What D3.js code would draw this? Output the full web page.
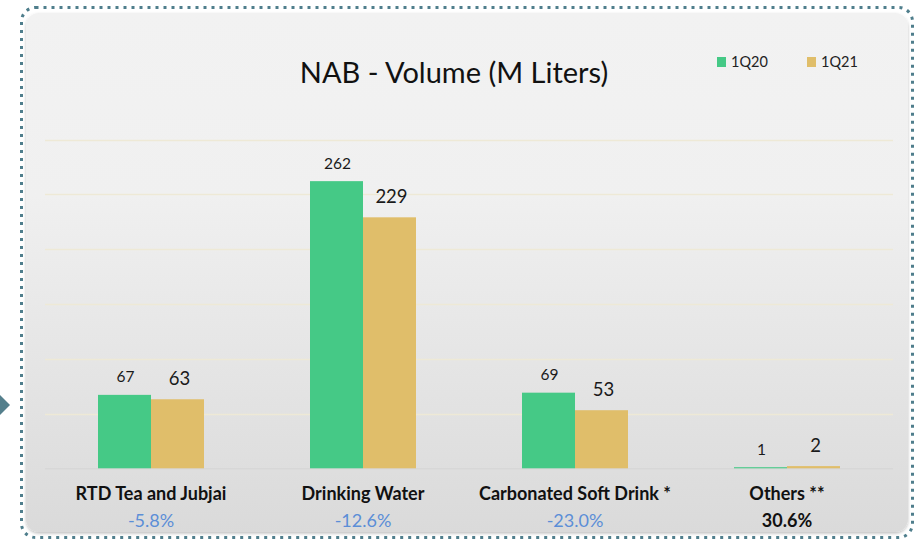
<!DOCTYPE html>
<html>
<head>
<meta charset="utf-8">
<script src="https://cdn.jsdelivr.net/npm/d3@7"></script>
<style>
html,body{margin:0;padding:0;background:#fff;}
svg{display:block;font-family:Lato,"Open Sans",sans-serif;}
</style>
</head>
<body>
<svg id="chart" width="919" height="541"></svg>
<script>
const categories = ["RTD Tea and Jubjai", "Drinking Water", "Carbonated Soft Drink *", "Others **"];
const seriesNames = ["1Q20", "1Q21"];
const values1Q20 = [67, 262, 69, 1];
const values1Q21 = [63, 229, 53, 2];
const growthLabels = ["-5.8%", "-12.6%", "-23.0%", "30.6%"];
const yTicks = [0, 50, 100, 150, 200, 250, 300];

const colors = {"1Q20": "#45C986", "1Q21": "#E0BE6A"};
const svg = d3.select("#chart");

// background panel
const defs = svg.append("defs");
const grad = defs.append("linearGradient").attr("id","bg").attr("x1",0).attr("y1",0).attr("x2",0).attr("y2",1);
grad.append("stop").attr("offset","0%").attr("stop-color","#F2F2F2");
grad.append("stop").attr("offset","35%").attr("stop-color","#F0F0F0");
grad.append("stop").attr("offset","100%").attr("stop-color","#DADADA");
const sh = defs.append("filter").attr("id","sh").attr("x","-5%").attr("y","-5%").attr("width","110%").attr("height","110%");
sh.append("feDropShadow").attr("dx",0).attr("dy",1.5).attr("stdDeviation",1.5).attr("flood-color","#000").attr("flood-opacity",0.25);

svg.append("rect").attr("x",26).attr("y",13).attr("width",882).attr("height",519)
  .attr("rx",13).attr("fill","url(#bg)").attr("filter","url(#sh)");

svg.append("rect").attr("x",21.5).attr("y",7.5).attr("width",891).attr("height",530)
  .attr("rx",14).attr("fill","none").attr("stroke","#4F7E8C").attr("stroke-width",3)
  .attr("stroke-dasharray","3,5");

// left arrow
svg.append("path").attr("d","M0,395 L10,405 L0,415 Z").attr("fill","#547F8C");

// scales
const x0 = d3.scaleBand().domain(categories).range([45, 893]).paddingInner(0).paddingOuter(0);
const x1 = d3.scaleBand().domain(seriesNames).range([0, x0.bandwidth()]).paddingInner(0).paddingOuter(1);
const y = d3.scaleLinear().domain([0, 300]).range([468.3, 139.5]);

// gridlines
svg.append("g").selectAll("line").data(yTicks.filter(d=>d>0)).join("line")
  .attr("x1",45).attr("x2",893)
  .attr("y1",d=>Math.round(y(d))+0.5).attr("y2",d=>Math.round(y(d))+0.5)
  .attr("stroke","#EEE9D6").attr("stroke-width",1.5);
svg.append("line").attr("x1",45).attr("x2",893).attr("y1",y(0)+0.5).attr("y2",y(0)+0.5)
  .attr("stroke","#D4D4D4").attr("stroke-width",1);

// bars
const data = categories.map((c,i)=>({cat:c, vals:[{s:"1Q20", v:values1Q20[i]},{s:"1Q21", v:values1Q21[i]}]}));
const groups = svg.append("g").selectAll("g").data(data).join("g")
  .attr("transform", d=>`translate(${x0(d.cat)},0)`);
groups.selectAll("rect").data(d=>d.vals).join("rect")
  .attr("x", d=>x1(d.s)).attr("width", x1.bandwidth())
  .attr("y", d=>y(d.v)).attr("height", d=>y(0)-y(d.v))
  .attr("fill", d=>colors[d.s]);

// value labels
groups.selectAll("text.val").data(d=>d.vals).join("text").attr("class","val")
  .attr("x", d=>x1(d.s)+x1.bandwidth()/2 + (d.s==="1Q20"?1:2))
  .attr("y", d=>y(d.v) - (d.s==="1Q20"?12.5:14))
  .attr("text-anchor","middle")
  .attr("font-size", d=>d.s==="1Q20"?15.5:18.5)
  .attr("fill","#1a1a1a")
  .text(d=>d.v);

// category labels
svg.append("g").selectAll("text").data(categories).join("text")
  .attr("x", d=>x0(d)+x0.bandwidth()/2).attr("y",500)
  .attr("text-anchor","middle").attr("font-size",18).attr("font-weight","bold").attr("fill","#111")
  .text(d=>d);
svg.append("g").selectAll("text").data(growthLabels).join("text")
  .attr("x", (d,i)=>x0(categories[i])+x0.bandwidth()/2).attr("y",527)
  .attr("text-anchor","middle").attr("font-size",18)
  .attr("font-weight",(d,i)=>i===3?"bold":"normal")
  .attr("fill",(d,i)=>i===3?"#111":"#5B8ED7")
  .text(d=>d);

// title
svg.append("text").attr("x",454).attr("y",83).attr("text-anchor","middle")
  .attr("font-size",29).attr("fill","#111").text("NAB - Volume (M Liters)");

// legend
const leg = svg.append("g").selectAll("g").data(seriesNames).join("g")
  .attr("transform",(d,i)=>`translate(${717+i*90},57)`);
leg.append("rect").attr("width",9).attr("height",10).attr("fill",d=>colors[d]);
leg.append("text").attr("x",14).attr("y",10).attr("font-size",14.5).attr("fill","#222").text(d=>d);
</script>
</body>
</html>
